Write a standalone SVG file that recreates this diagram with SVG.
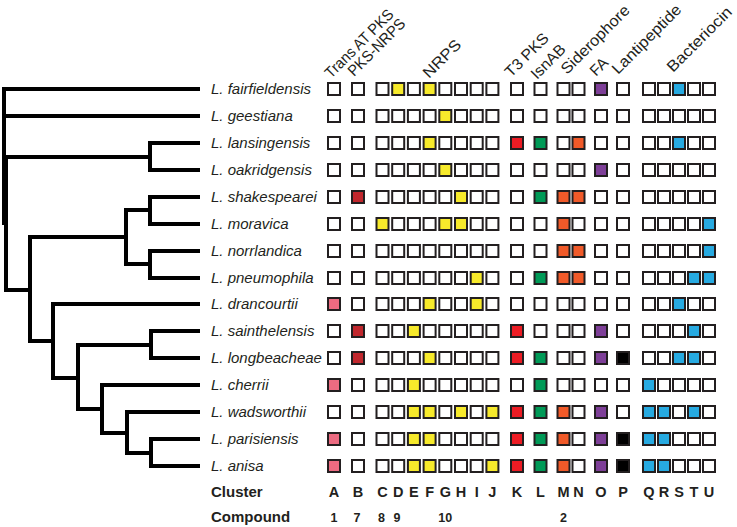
<svg xmlns="http://www.w3.org/2000/svg" xmlns:xlink="http://www.w3.org/1999/xlink" width="737" height="527" viewBox="0 0 737 527">
<style>
.sp{font-family:"Liberation Sans",Arial,sans-serif;font-style:italic;font-size:15px;fill:#231f20}
.hd{font-family:"Liberation Sans",Arial,sans-serif;font-size:15.5px;fill:#231f20}
.bl{font-family:"Liberation Sans",Arial,sans-serif;font-weight:bold;font-size:15px;fill:#231f20}
.cl{font-family:"Liberation Sans",Arial,sans-serif;font-weight:bold;font-size:14.5px;fill:#231f20;text-anchor:middle}
.cp{font-family:"Liberation Sans Narrow","Liberation Sans",Arial,sans-serif;font-weight:bold;font-size:12.5px;fill:#231f20;text-anchor:middle}
use{stroke:#231f20;stroke-width:2;fill:#fff}
.y{fill:#f7ea2b}.pk{fill:#ec6b81}.dr{fill:#c1272d}.r{fill:#ed1c24}.g{fill:#009a57}.o{fill:#f15a29}.p{fill:#7e3f98}.k{fill:#000}.b{fill:#27aae1}
.tree path{fill:none;stroke:#000;stroke-width:4;stroke-linecap:square;stroke-linejoin:miter}
</style>
<defs>
<rect id="bx" x="-6" y="-6" width="12" height="12"/>
</defs>
<g id="connectors" class="tree">
<path d="M4,89 V223 M4,89 H198 M4,116 H198"/>
<path d="M6,157 V290"/>
<path d="M6,157 H150 M150,143 V170 M150,143 H198 M150,170 H198"/>
<path d="M6,290 H30 M30,237 V341"/>
<path d="M30,237 H126 M126,210 V264 M126,210 H150 M150,197 V224 M150,197 H198 M150,224 H198 M126,264 H150 M150,251 V278 M150,251 H198 M150,278 H198"/>
<path d="M30,341 H53 M53,304 V378 M53,304 H198 M53,378 H78 M78,345 V409 M78,345 H151 M151,331 V358 M151,331 H198 M151,358 H198"/>
<path d="M78,409 H102 M102,385 V433 M102,385 H198 M102,433 H127 M127,412 V453 M127,412 H198 M127,453 H151 M151,439 V466 M151,439 H198 M151,466 H198"/>
</g>
<g id="headers">
<text class="hd" transform="translate(331,79) rotate(-45)" textLength="90" lengthAdjust="spacingAndGlyphs">Trans AT PKS</text>
<text class="hd" transform="translate(354,77) rotate(-45)" textLength="74" lengthAdjust="spacingAndGlyphs">PKS-NRPS</text>
<text class="hd" transform="translate(429,79) rotate(-45)" textLength="47" lengthAdjust="spacingAndGlyphs">NRPS</text>
<text class="hd" transform="translate(511,78) rotate(-45)" textLength="55" lengthAdjust="spacingAndGlyphs">T3 PKS</text>
<text class="hd" transform="translate(537,80) rotate(-45)" textLength="42" lengthAdjust="spacingAndGlyphs">IsnAB</text>
<text class="hd" transform="translate(567,75) rotate(-45)" textLength="90" lengthAdjust="spacingAndGlyphs">Siderophore</text>
<text class="hd" transform="translate(596,77) rotate(-45)">FA</text>
<text class="hd" transform="translate(618,75) rotate(-45)" textLength="91" lengthAdjust="spacingAndGlyphs">Lantipeptide</text>
<text class="hd" transform="translate(673,73) rotate(-45)" textLength="85" lengthAdjust="spacingAndGlyphs">Bacteriocin</text>
</g>
<g id="row-fairfieldensis" transform="translate(0,89)">
<text class="sp" x="211" y="5">L. fairfieldensis</text>
<use href="#bx" x="334"/><use href="#bx" x="358"/><use href="#bx" x="382.5"/><use href="#bx" x="398.2" class="y"/><use href="#bx" x="413.9"/><use href="#bx" x="429.6" class="y"/><use href="#bx" x="445.3"/><use href="#bx" x="461"/><use href="#bx" x="476.7"/><use href="#bx" x="492.4"/><use href="#bx" x="517"/><use href="#bx" x="540.5"/><use href="#bx" x="563.5"/><use href="#bx" x="578.5"/><use href="#bx" x="601" class="p"/><use href="#bx" x="623"/><use href="#bx" x="649"/><use href="#bx" x="664"/><use href="#bx" x="679" class="b"/><use href="#bx" x="694"/><use href="#bx" x="709"/>
</g>
<g id="row-geestiana" transform="translate(0,116)">
<text class="sp" x="211" y="5">L. geestiana</text>
<use href="#bx" x="334"/><use href="#bx" x="358"/><use href="#bx" x="382.5"/><use href="#bx" x="398.2"/><use href="#bx" x="413.9"/><use href="#bx" x="429.6"/><use href="#bx" x="445.3" class="y"/><use href="#bx" x="461"/><use href="#bx" x="476.7"/><use href="#bx" x="492.4"/><use href="#bx" x="517"/><use href="#bx" x="540.5"/><use href="#bx" x="563.5"/><use href="#bx" x="578.5"/><use href="#bx" x="601"/><use href="#bx" x="623"/><use href="#bx" x="649"/><use href="#bx" x="664"/><use href="#bx" x="679"/><use href="#bx" x="694"/><use href="#bx" x="709"/>
</g>
<g id="row-lansingensis" transform="translate(0,143)">
<text class="sp" x="211" y="5">L. lansingensis</text>
<use href="#bx" x="334"/><use href="#bx" x="358"/><use href="#bx" x="382.5"/><use href="#bx" x="398.2"/><use href="#bx" x="413.9"/><use href="#bx" x="429.6" class="y"/><use href="#bx" x="445.3"/><use href="#bx" x="461"/><use href="#bx" x="476.7"/><use href="#bx" x="492.4"/><use href="#bx" x="517" class="r"/><use href="#bx" x="540.5" class="g"/><use href="#bx" x="563.5"/><use href="#bx" x="578.5" class="o"/><use href="#bx" x="601"/><use href="#bx" x="623"/><use href="#bx" x="649"/><use href="#bx" x="664"/><use href="#bx" x="679" class="b"/><use href="#bx" x="694"/><use href="#bx" x="709"/>
</g>
<g id="row-oakridgensis" transform="translate(0,170)">
<text class="sp" x="211" y="5">L. oakridgensis</text>
<use href="#bx" x="334"/><use href="#bx" x="358"/><use href="#bx" x="382.5"/><use href="#bx" x="398.2"/><use href="#bx" x="413.9"/><use href="#bx" x="429.6"/><use href="#bx" x="445.3" class="y"/><use href="#bx" x="461"/><use href="#bx" x="476.7"/><use href="#bx" x="492.4"/><use href="#bx" x="517"/><use href="#bx" x="540.5"/><use href="#bx" x="563.5"/><use href="#bx" x="578.5"/><use href="#bx" x="601" class="p"/><use href="#bx" x="623"/><use href="#bx" x="649"/><use href="#bx" x="664"/><use href="#bx" x="679"/><use href="#bx" x="694"/><use href="#bx" x="709"/>
</g>
<g id="row-shakespearei" transform="translate(0,197)">
<text class="sp" x="211" y="5">L. shakespearei</text>
<use href="#bx" x="334"/><use href="#bx" x="358" class="dr"/><use href="#bx" x="382.5"/><use href="#bx" x="398.2"/><use href="#bx" x="413.9"/><use href="#bx" x="429.6"/><use href="#bx" x="445.3"/><use href="#bx" x="461" class="y"/><use href="#bx" x="476.7"/><use href="#bx" x="492.4"/><use href="#bx" x="517"/><use href="#bx" x="540.5" class="g"/><use href="#bx" x="563.5" class="o"/><use href="#bx" x="578.5" class="o"/><use href="#bx" x="601"/><use href="#bx" x="623"/><use href="#bx" x="649"/><use href="#bx" x="664"/><use href="#bx" x="679"/><use href="#bx" x="694"/><use href="#bx" x="709"/>
</g>
<g id="row-moravica" transform="translate(0,224)">
<text class="sp" x="211" y="5">L. moravica</text>
<use href="#bx" x="334"/><use href="#bx" x="358"/><use href="#bx" x="382.5" class="y"/><use href="#bx" x="398.2"/><use href="#bx" x="413.9"/><use href="#bx" x="429.6"/><use href="#bx" x="445.3" class="y"/><use href="#bx" x="461" class="y"/><use href="#bx" x="476.7"/><use href="#bx" x="492.4"/><use href="#bx" x="517"/><use href="#bx" x="540.5"/><use href="#bx" x="563.5" class="o"/><use href="#bx" x="578.5"/><use href="#bx" x="601"/><use href="#bx" x="623"/><use href="#bx" x="649"/><use href="#bx" x="664"/><use href="#bx" x="679"/><use href="#bx" x="694"/><use href="#bx" x="709" class="b"/>
</g>
<g id="row-norrlandica" transform="translate(0,251)">
<text class="sp" x="211" y="5">L. norrlandica</text>
<use href="#bx" x="334"/><use href="#bx" x="358"/><use href="#bx" x="382.5"/><use href="#bx" x="398.2"/><use href="#bx" x="413.9"/><use href="#bx" x="429.6"/><use href="#bx" x="445.3"/><use href="#bx" x="461"/><use href="#bx" x="476.7"/><use href="#bx" x="492.4"/><use href="#bx" x="517"/><use href="#bx" x="540.5"/><use href="#bx" x="563.5" class="o"/><use href="#bx" x="578.5" class="o"/><use href="#bx" x="601"/><use href="#bx" x="623"/><use href="#bx" x="649"/><use href="#bx" x="664"/><use href="#bx" x="679"/><use href="#bx" x="694"/><use href="#bx" x="709" class="b"/>
</g>
<g id="row-pneumophila" transform="translate(0,278)">
<text class="sp" x="211" y="5">L. pneumophila</text>
<use href="#bx" x="334"/><use href="#bx" x="358"/><use href="#bx" x="382.5"/><use href="#bx" x="398.2"/><use href="#bx" x="413.9"/><use href="#bx" x="429.6"/><use href="#bx" x="445.3"/><use href="#bx" x="461"/><use href="#bx" x="476.7" class="y"/><use href="#bx" x="492.4"/><use href="#bx" x="517"/><use href="#bx" x="540.5" class="g"/><use href="#bx" x="563.5" class="o"/><use href="#bx" x="578.5" class="o"/><use href="#bx" x="601"/><use href="#bx" x="623"/><use href="#bx" x="649"/><use href="#bx" x="664"/><use href="#bx" x="679"/><use href="#bx" x="694" class="b"/><use href="#bx" x="709" class="b"/>
</g>
<g id="row-drancourtii" transform="translate(0,304)">
<text class="sp" x="211" y="5">L. drancourtii</text>
<use href="#bx" x="334" class="pk"/><use href="#bx" x="358"/><use href="#bx" x="382.5"/><use href="#bx" x="398.2"/><use href="#bx" x="413.9"/><use href="#bx" x="429.6" class="y"/><use href="#bx" x="445.3"/><use href="#bx" x="461"/><use href="#bx" x="476.7" class="y"/><use href="#bx" x="492.4"/><use href="#bx" x="517"/><use href="#bx" x="540.5"/><use href="#bx" x="563.5"/><use href="#bx" x="578.5"/><use href="#bx" x="601"/><use href="#bx" x="623"/><use href="#bx" x="649"/><use href="#bx" x="664"/><use href="#bx" x="679" class="b"/><use href="#bx" x="694"/><use href="#bx" x="709"/>
</g>
<g id="row-sainthelensis" transform="translate(0,331)">
<text class="sp" x="211" y="5">L. sainthelensis</text>
<use href="#bx" x="334"/><use href="#bx" x="358" class="dr"/><use href="#bx" x="382.5"/><use href="#bx" x="398.2"/><use href="#bx" x="413.9" class="y"/><use href="#bx" x="429.6"/><use href="#bx" x="445.3"/><use href="#bx" x="461"/><use href="#bx" x="476.7"/><use href="#bx" x="492.4"/><use href="#bx" x="517" class="r"/><use href="#bx" x="540.5"/><use href="#bx" x="563.5"/><use href="#bx" x="578.5"/><use href="#bx" x="601" class="p"/><use href="#bx" x="623"/><use href="#bx" x="649"/><use href="#bx" x="664"/><use href="#bx" x="679"/><use href="#bx" x="694" class="b"/><use href="#bx" x="709"/>
</g>
<g id="row-longbeacheae" transform="translate(0,358)">
<text class="sp" x="211" y="5">L. longbeacheae</text>
<use href="#bx" x="334"/><use href="#bx" x="358" class="dr"/><use href="#bx" x="382.5"/><use href="#bx" x="398.2"/><use href="#bx" x="413.9"/><use href="#bx" x="429.6" class="y"/><use href="#bx" x="445.3"/><use href="#bx" x="461"/><use href="#bx" x="476.7"/><use href="#bx" x="492.4"/><use href="#bx" x="517" class="r"/><use href="#bx" x="540.5" class="g"/><use href="#bx" x="563.5"/><use href="#bx" x="578.5"/><use href="#bx" x="601" class="p"/><use href="#bx" x="623" class="k"/><use href="#bx" x="649"/><use href="#bx" x="664"/><use href="#bx" x="679" class="b"/><use href="#bx" x="694" class="b"/><use href="#bx" x="709"/>
</g>
<g id="row-cherrii" transform="translate(0,385)">
<text class="sp" x="211" y="5">L. cherrii</text>
<use href="#bx" x="334" class="pk"/><use href="#bx" x="358"/><use href="#bx" x="382.5"/><use href="#bx" x="398.2"/><use href="#bx" x="413.9" class="y"/><use href="#bx" x="429.6"/><use href="#bx" x="445.3"/><use href="#bx" x="461"/><use href="#bx" x="476.7"/><use href="#bx" x="492.4"/><use href="#bx" x="517"/><use href="#bx" x="540.5" class="g"/><use href="#bx" x="563.5"/><use href="#bx" x="578.5"/><use href="#bx" x="601"/><use href="#bx" x="623"/><use href="#bx" x="649" class="b"/><use href="#bx" x="664"/><use href="#bx" x="679"/><use href="#bx" x="694"/><use href="#bx" x="709"/>
</g>
<g id="row-wadsworthii" transform="translate(0,412)">
<text class="sp" x="211" y="5">L. wadsworthii</text>
<use href="#bx" x="334"/><use href="#bx" x="358"/><use href="#bx" x="382.5"/><use href="#bx" x="398.2"/><use href="#bx" x="413.9" class="y"/><use href="#bx" x="429.6" class="y"/><use href="#bx" x="445.3"/><use href="#bx" x="461" class="y"/><use href="#bx" x="476.7"/><use href="#bx" x="492.4" class="y"/><use href="#bx" x="517" class="r"/><use href="#bx" x="540.5" class="g"/><use href="#bx" x="563.5" class="o"/><use href="#bx" x="578.5"/><use href="#bx" x="601" class="p"/><use href="#bx" x="623"/><use href="#bx" x="649" class="b"/><use href="#bx" x="664" class="b"/><use href="#bx" x="679"/><use href="#bx" x="694" class="b"/><use href="#bx" x="709"/>
</g>
<g id="row-parisiensis" transform="translate(0,439)">
<text class="sp" x="211" y="5">L. parisiensis</text>
<use href="#bx" x="334" class="pk"/><use href="#bx" x="358"/><use href="#bx" x="382.5"/><use href="#bx" x="398.2"/><use href="#bx" x="413.9" class="y"/><use href="#bx" x="429.6" class="y"/><use href="#bx" x="445.3"/><use href="#bx" x="461"/><use href="#bx" x="476.7"/><use href="#bx" x="492.4"/><use href="#bx" x="517" class="r"/><use href="#bx" x="540.5" class="g"/><use href="#bx" x="563.5" class="o"/><use href="#bx" x="578.5"/><use href="#bx" x="601" class="p"/><use href="#bx" x="623" class="k"/><use href="#bx" x="649" class="b"/><use href="#bx" x="664" class="b"/><use href="#bx" x="679"/><use href="#bx" x="694"/><use href="#bx" x="709"/>
</g>
<g id="row-anisa" transform="translate(0,466)">
<text class="sp" x="211" y="5">L. anisa</text>
<use href="#bx" x="334" class="pk"/><use href="#bx" x="358"/><use href="#bx" x="382.5"/><use href="#bx" x="398.2"/><use href="#bx" x="413.9" class="y"/><use href="#bx" x="429.6" class="y"/><use href="#bx" x="445.3"/><use href="#bx" x="461"/><use href="#bx" x="476.7"/><use href="#bx" x="492.4" class="y"/><use href="#bx" x="517" class="r"/><use href="#bx" x="540.5" class="g"/><use href="#bx" x="563.5" class="o"/><use href="#bx" x="578.5"/><use href="#bx" x="601" class="p"/><use href="#bx" x="623" class="k"/><use href="#bx" x="649" class="b"/><use href="#bx" x="664" class="b"/><use href="#bx" x="679"/><use href="#bx" x="694"/><use href="#bx" x="709"/>
</g>
<g id="cluster-row">
<text class="bl" x="211" y="497">Cluster</text>
<text class="cl" y="497"><tspan x="334">A</tspan><tspan x="358">B</tspan><tspan x="382.5">C</tspan><tspan x="398.2">D</tspan><tspan x="413.9">E</tspan><tspan x="429.6">F</tspan><tspan x="445.3">G</tspan><tspan x="461">H</tspan><tspan x="476.7">I</tspan><tspan x="492.4">J</tspan><tspan x="517">K</tspan><tspan x="540.5">L</tspan><tspan x="563.5">M</tspan><tspan x="578.5">N</tspan><tspan x="601">O</tspan><tspan x="623">P</tspan><tspan x="649">Q</tspan><tspan x="664">R</tspan><tspan x="679">S</tspan><tspan x="694">T</tspan><tspan x="709">U</tspan></text>
</g>
<g id="compound-row">
<text class="bl" x="211" y="522">Compound</text>
<text class="cp" y="522"><tspan x="334">1</tspan><tspan x="357">7</tspan><tspan x="381.5">8</tspan><tspan x="397">9</tspan><tspan x="445.3">10</tspan><tspan x="563.5">2</tspan></text>
</g>
</svg>
